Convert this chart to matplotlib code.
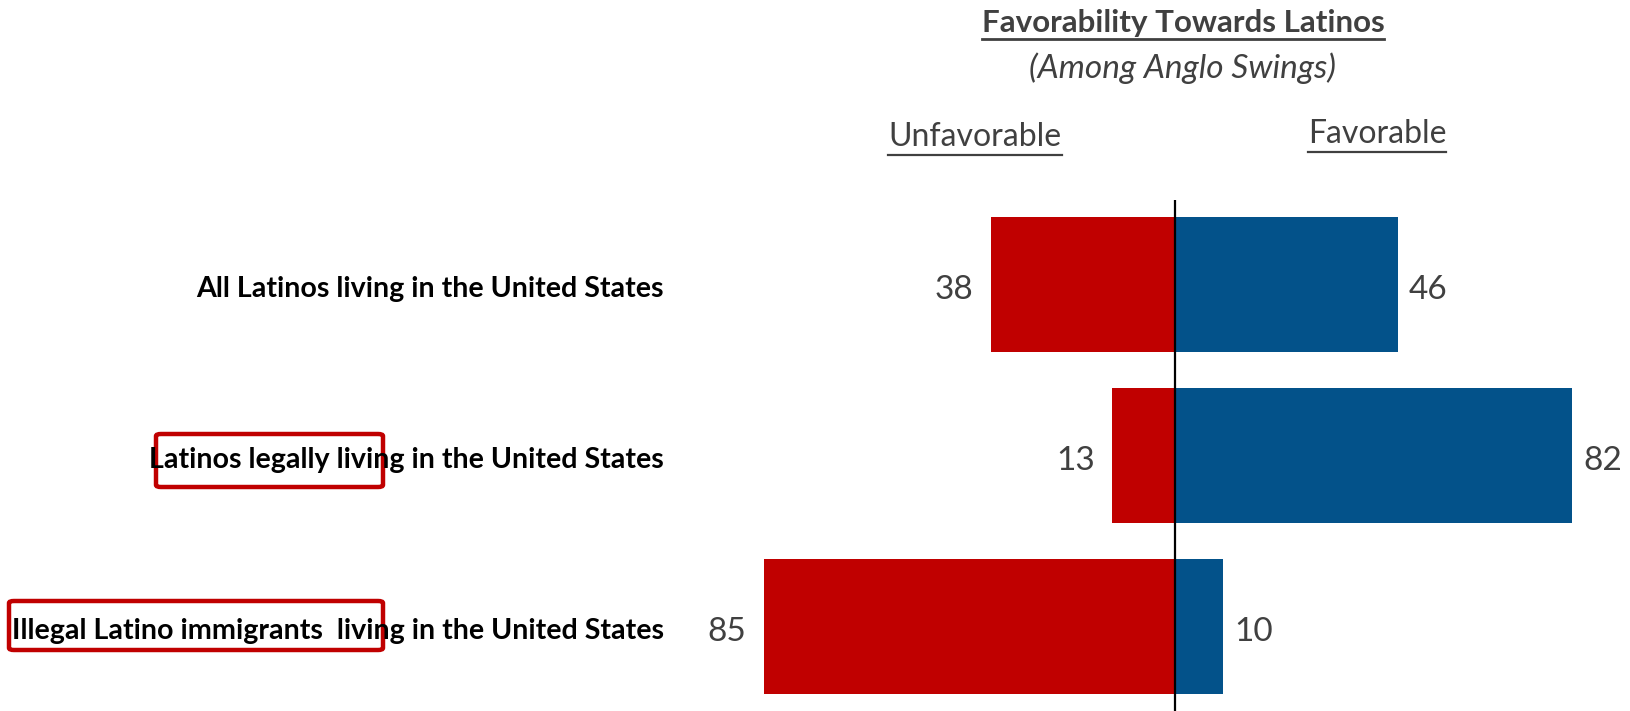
import matplotlib.pyplot as plt
from matplotlib.patches import FancyBboxPatch
from matplotlib.lines import Line2D

# groups asked about, top to bottom
groupes = [
    "All Latinos living in the United States",
    "Latinos legally living in the United States",
    "Illegal Latino immigrants  living in the United States",
]
defavorable = [38, 13, 85]
favorable = [46, 82, 10]

titre = "Favorability Towards Latinos"
sous_titre = "(Among Anglo Swings)"

ROUGE = "#C00000"
BLEU = "#03528A"
GRIS = "#404040"

W, H = 1631, 711
fig = plt.figure(figsize=(W / 100, H / 100), dpi=100)
plt.rcParams['font.family'] = ['Lato', 'DejaVu Sans']


def px(x, y):
    # pixel position (from top-left) -> figure fraction
    return x / W, 1 - y / H


# axes for the bars, from x=700px to the right edge, y=200px to the bottom
ax = fig.add_axes([700 / W, 0, (W - 700) / W, (H - 200) / H])
pas = 4.84  # pixels per percentage point
ax.set_xlim((700 - 1175) / pas, (W - 1175) / pas)
ax.set_ylim(2 + (711 - 626.5) / 171, -85 / 171)
ax.axis("off")

pos = list(range(len(groupes)))
ax.barh(pos, [-v for v in defavorable], height=0.79, color=ROUGE)
ax.barh(pos, favorable, height=0.79, color=BLEU)
ax.axvline(0, color="black", lw=1.6)

for i in pos:
    ax.text(-defavorable[i] - 3.6, i + 0.03, str(defavorable[i]), ha="right", va="center",
            fontsize=24, color=GRIS)
    ax.text(favorable[i] + 2.3, i + 0.03, str(favorable[i]), ha="left", va="center",
            fontsize=24, color=GRIS)

# category labels to the left of the bars
for i, g in enumerate(groupes):
    y = 289 + 171 * i
    fig.text(*px(664, y), g, ha="right", va="center", fontsize=20.6,
             fontweight="bold", color="black")


def souligne(t, dy, lw=1.6):
    # draw a line just below the text
    fig.canvas.draw()
    bb = t.get_window_extent()
    y = bb.y0 - dy
    fig.add_artist(Line2D([bb.x0 / W, bb.x1 / W], [y / H, y / H], color=GRIS, lw=lw,
                          transform=fig.transFigure))


t1 = fig.text(*px(1183, 23), titre, ha="center", va="center", fontsize=22.6,
              fontweight="bold", color=GRIS)
souligne(t1, 2, lw=2)
fig.text(*px(1183, 68), sous_titre, ha="center", va="center", fontsize=24,
         style="italic", color=GRIS)
t2 = fig.text(*px(975, 137), "Unfavorable", ha="center", va="center", fontsize=23,
              color=GRIS)
souligne(t2, 3)
t3 = fig.text(*px(1377, 134), "Favorable", ha="center", va="center", fontsize=23,
              color=GRIS)
souligne(t3, 3)

# highlight boxes
for x0, y0, x1, y1 in [(156, 434, 383, 487), (9, 601, 383, 650)]:
    fig.add_artist(FancyBboxPatch(px(x0, y1), (x1 - x0) / W, (y1 - y0) / H,
                                  boxstyle="round,pad=0,rounding_size=0.003",
                                  fill=False, ec=ROUGE, lw=3.2,
                                  transform=fig.transFigure))

fig.savefig("out.png", dpi=100)
